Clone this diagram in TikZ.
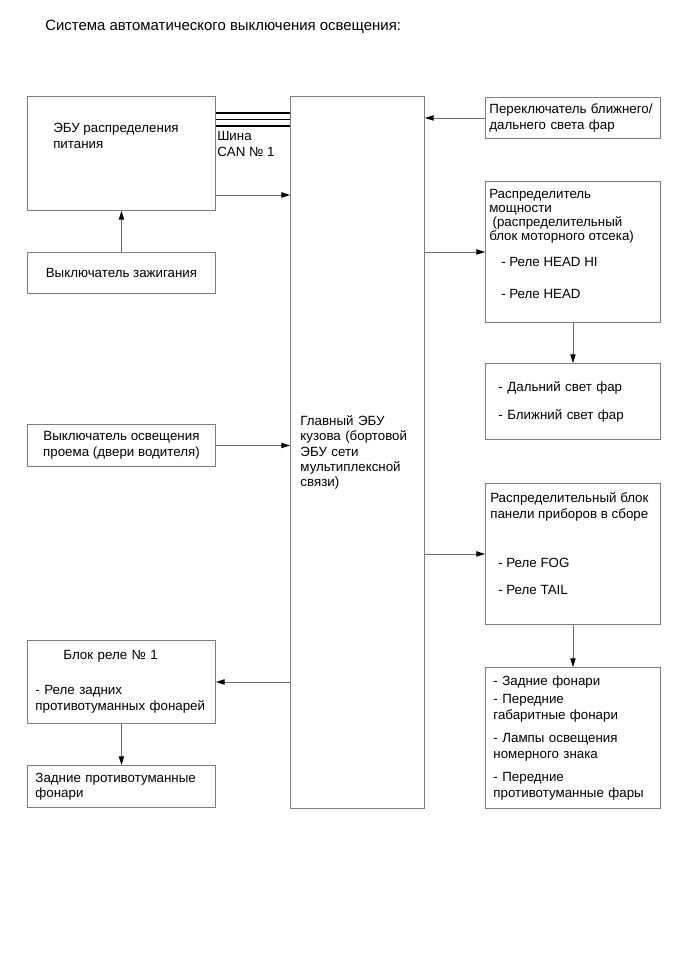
\documentclass[tikz,border=0pt]{standalone}
\usepackage{fontspec}
\setmainfont{Liberation Sans}
\usetikzlibrary{arrows.meta, positioning, calc}
\definecolor{framegray}{RGB}{125,125,125}
\definecolor{wiregray}{RGB}{105,105,105}

\begin{document}
\begin{tikzpicture}[x=0.75pt, y=-0.75pt,
    block/.style={rectangle, draw=framegray, line width=0.7pt, fill=white, anchor=north west, inner sep=0pt, align=left, font=\fontsize{10}{11.6}\selectfont},
    note/.style={anchor=north west, inner sep=0pt, align=left, font=\fontsize{10}{11.6}\selectfont},
    wire/.style={-{Triangle[length=6.5pt, width=4pt, color=black]}, line width=0.7pt, color=wiregray},
    canbus/.style={line width=2.2pt, color=black}
]
\useasboundingbox (0,0) rectangle (687,956);
\node[note, anchor=base west, font=\fontsize{11.2}{13}\selectfont] (title) at (45,31) {Система автоматического выключения освещения:};

% left column
\node[block, minimum width=141pt, minimum height=85.5pt] (ecu) at (27,96) {};
\node[note] (ecu-text) at (53,122.5) {ЭБУ распределения\\[1pt]питания};
\node[block, minimum width=141pt, minimum height=30.75pt, align=center] (ign) at (27,252) {Выключатель зажигания};
\node[block, minimum width=141pt, minimum height=31.5pt, align=center] (door) at (27,424) {Выключатель освещения\\проема (двери водителя)};
\node[block, minimum width=141pt, minimum height=62.25pt, inner xsep=6pt, text width=129pt] (relay) at (27,640) {\hspace*{21pt}Блок реле № 1\\[14.6pt]- Реле задних\\противотуманных фонарей};
\node[block, minimum width=141pt, minimum height=31.5pt, inner xsep=6pt, text width=129pt] (rfog) at (27,765) {Задние противотуманные\\фонари};

% central ECU
\node[block, minimum width=100.5pt, minimum height=534pt, inner xsep=7.5pt, text width=85.5pt] (main) at (290,96) {Главный ЭБУ\\кузова (бортовой\\ЭБУ сети\\мультиплексной\\связи)};

% right column
\node[block, minimum width=131.25pt, minimum height=30.75pt, inner xsep=3pt, text width=125.25pt] (hlsw) at (485,97) {Переключатель ближнего/\\дальнего света фар};
\node[block, minimum width=131.25pt, minimum height=105.75pt] (pdist) at (485,181) {};
\node[note] (pdist-text) at (489,189.5) {Распределитель\\[-1.1pt]мощности\\[-1.1pt]\hspace*{2.5pt}(распределительный\\[-1.1pt]блок моторного отсека)\\[7.9pt]\hspace*{9pt}- Реле HEAD HI\\[12.4pt]\hspace*{9pt}- Реле HEAD};
\node[block, minimum width=131.25pt, minimum height=57pt, inner xsep=9.75pt, text width=111.75pt] (beams) at (485,363) {- Дальний свет фар\\[9.4pt]- Ближний свет фар};
\node[block, minimum width=131.25pt, minimum height=105.75pt] (ipjb) at (485,483) {};
\node[note] (ipjb-text) at (490,492) {Распределительный блок\\[0.4pt]панели приборов в сборе\\[25.1pt]\hspace*{6pt}- Реле FOG\\[8.6pt]\hspace*{6pt}- Реле TAIL};
\node[block, minimum width=131.25pt, minimum height=105.75pt, inner xsep=6pt, text width=119.25pt] (lamps) at (485,667) {- Задние фонари\\[2pt]- Передние\\габаритные фонари\\[5.6pt]- Лампы освещения\\[1pt]номерного знака\\[5.6pt]- Передние\\противотуманные фары};

% CAN bus
\node[note] (can-text) at (217,131.5) {Шина\\CAN № 1};
\coordinate (can1) at (0,113);
\coordinate (can2) at (0,119.5);
\coordinate (can3) at (0,126);
\draw[canbus] (ecu.east |- can1) -- (main.west |- can1);
\draw[line width=0.8pt] (ecu.east |- can2) -- (main.west |- can2);
\draw[canbus] (ecu.east |- can3) -- (main.west |- can3);

% signal lines
\coordinate (y1) at (0,195);
\draw[wire] (ign.north) -- (ecu.south);
\draw[wire] (ecu.east |- y1) -- (main.west |- y1);
\draw[wire] (door.east) -- (door.east -| main.west);
\draw[wire] (hlsw.west) -- (hlsw.west -| main.east);
\draw[wire] (pdist.west -| main.east) -- (pdist.west);
\draw[wire] (pdist.south) -- (beams.north);
\draw[wire] (ipjb.west -| main.east) -- (ipjb.west);
\draw[wire] (ipjb.south) -- (lamps.north);
\draw[wire] (relay.east -| main.west) -- (relay.east);
\draw[wire] (relay.south) -- (rfog.north);
\end{tikzpicture}
\end{document}
